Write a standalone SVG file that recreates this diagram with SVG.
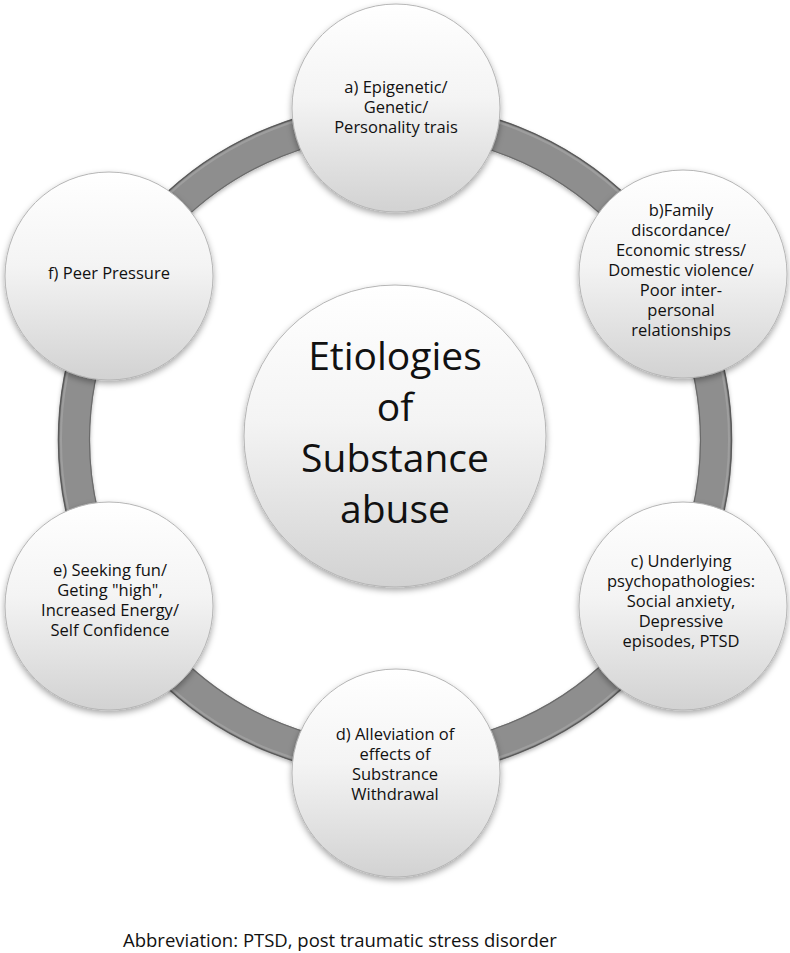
<svg xmlns="http://www.w3.org/2000/svg" width="790" height="953" viewBox="0 0 790 953">
<defs>
<linearGradient id="nodeFill" x1="0" y1="0" x2="0" y2="1">
<stop offset="0" stop-color="#ffffff"/>
<stop offset="0.45" stop-color="#f4f4f4"/>
<stop offset="1" stop-color="#d2d2d2"/>
</linearGradient>
<filter id="shadow" x="-20%" y="-20%" width="140%" height="140%">
<feDropShadow dx="0" dy="3" stdDeviation="3" flood-color="#000" flood-opacity="0.35"/>
</filter>
<filter id="ringShadow" x="-10%" y="-10%" width="120%" height="120%">
<feDropShadow dx="0" dy="2" stdDeviation="2" flood-color="#000" flood-opacity="0.3"/>
</filter>
</defs>
<style>
.node{fill:url(#nodeFill);stroke:#b5b5b5;stroke-width:1;filter:url(#shadow)}
.lbl{font-family:"Open Sans","Liberation Sans",sans-serif;font-size:16.5px;fill:#111;text-anchor:middle}
.big{font-family:"Open Sans","Liberation Sans",sans-serif;font-size:39px;fill:#111;text-anchor:middle}
.note{font-family:"Open Sans","Liberation Sans",sans-serif;font-size:18.5px;fill:#111}
</style>
<rect width="790" height="953" fill="#ffffff"/>
<g id="connectors">
<circle cx="395" cy="440" r="321" fill="none" stroke="#8e8e8e" stroke-width="32" filter="url(#ringShadow)"/>
<circle cx="395" cy="440" r="336.5" fill="none" stroke="#5a5a5a" stroke-width="1.5"/>
<circle cx="395" cy="440" r="305.5" fill="none" stroke="#6a6a6a" stroke-width="1.2"/>
<circle cx="395" cy="440" r="334" fill="none" stroke="#a8a8a8" stroke-width="2" opacity="0.6"/>
</g>
<g id="node-a">
<circle class="node" cx="396" cy="108" r="104"/>
<text class="lbl"><tspan x="396" y="93">a) Epigenetic/</tspan><tspan x="396" y="113">Genetic/</tspan><tspan x="396" y="133">Personality trais</tspan></text>
</g>
<g id="node-b">
<circle class="node" cx="683" cy="274" r="104"/>
<text class="lbl"><tspan x="681" y="216">b)Family</tspan><tspan x="681" y="236">discordance/</tspan><tspan x="681" y="256">Economic stress/</tspan><tspan x="681" y="276">Domestic violence/</tspan><tspan x="681" y="296">Poor inter-</tspan><tspan x="681" y="316">personal</tspan><tspan x="681" y="336">relationships</tspan></text>
</g>
<g id="node-c">
<circle class="node" cx="683" cy="606" r="104"/>
<text class="lbl"><tspan x="681" y="567">c) Underlying</tspan><tspan x="681" y="587">psychopathologies:</tspan><tspan x="681" y="607">Social anxiety,</tspan><tspan x="681" y="627">Depressive</tspan><tspan x="681" y="647">episodes, PTSD</tspan></text>
</g>
<g id="node-d">
<circle class="node" cx="396" cy="773" r="104"/>
<text class="lbl"><tspan x="395" y="740">d) Alleviation of</tspan><tspan x="395" y="760">effects of</tspan><tspan x="395" y="780">Substrance</tspan><tspan x="395" y="800">Withdrawal</tspan></text>
</g>
<g id="node-e">
<circle class="node" cx="109" cy="606" r="104"/>
<text class="lbl"><tspan x="110" y="576">e) Seeking fun/</tspan><tspan x="110" y="596">Geting "high",</tspan><tspan x="110" y="616">Increased Energy/</tspan><tspan x="110" y="636">Self Confidence</tspan></text>
</g>
<g id="node-f">
<circle class="node" cx="109" cy="276" r="104"/>
<text class="lbl"><tspan x="109" y="279">f) Peer Pressure</tspan></text>
</g>
<g id="node-center">
<circle class="node" cx="395" cy="436" r="151"/>
<text class="big"><tspan x="395" y="370">Etiologies</tspan><tspan x="395" y="421">of</tspan><tspan x="395" y="472">Substance</tspan><tspan x="395" y="523">abuse</tspan></text>
</g>
<text class="note" x="123" y="947">Abbreviation: PTSD, post traumatic stress disorder</text>
</svg>
